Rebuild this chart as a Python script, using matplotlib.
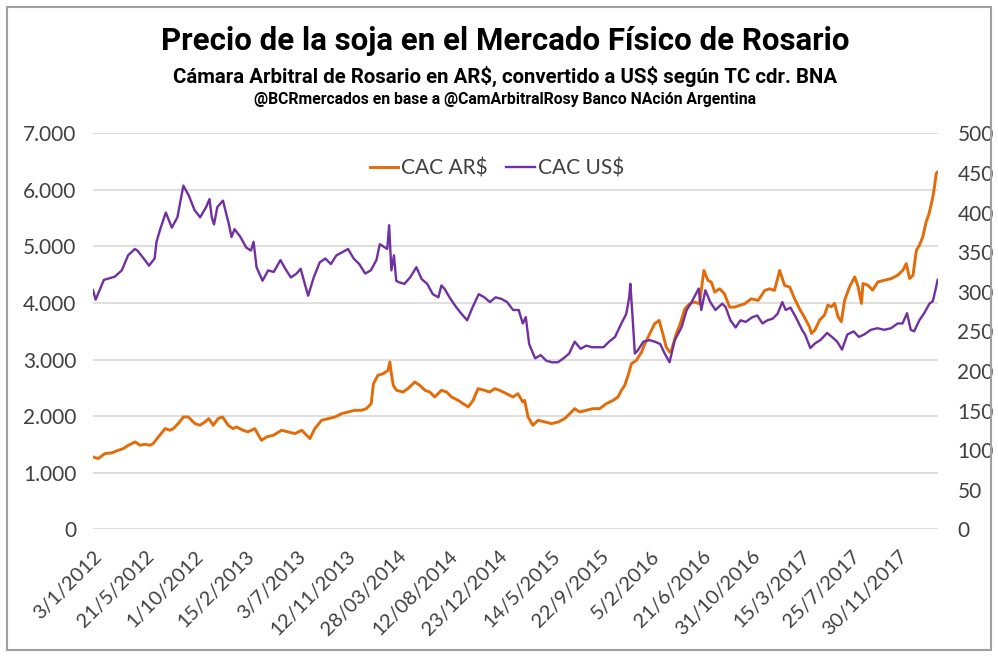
import matplotlib
matplotlib.use("Agg")
import matplotlib.pyplot as plt
from matplotlib.patches import Rectangle
from matplotlib.ticker import FuncFormatter
import pandas as pd

# CAC AR$ (left axis)
ars_dates = [
    "2012-01-03", "2012-01-17", "2012-02-04", "2012-02-22", "2012-03-11", "2012-03-24",
    "2012-04-07", "2012-04-25", "2012-05-08", "2012-05-21", "2012-06-04", "2012-06-12",
    "2012-06-26", "2012-07-14", "2012-07-27", "2012-08-05", "2012-08-18", "2012-09-01",
    "2012-09-14", "2012-10-02", "2012-10-15", "2012-10-29", "2012-11-08", "2012-11-20",
    "2012-12-03", "2012-12-15", "2012-12-30", "2013-01-12", "2013-01-21", "2013-02-08",
    "2013-02-21", "2013-03-11", "2013-03-29", "2013-04-12", "2013-04-30", "2013-05-22",
    "2013-06-09", "2013-06-27", "2013-07-15", "2013-07-28", "2013-08-06", "2013-08-19",
    "2013-09-06", "2013-09-24", "2013-10-12", "2013-10-30", "2013-11-16", "2013-12-04",
    "2013-12-22", "2014-01-04", "2014-01-17", "2014-01-23", "2014-02-04", "2014-02-18",
    "2014-03-03", "2014-03-08", "2014-03-12", "2014-03-17", "2014-03-26", "2014-04-12",
    "2014-04-25", "2014-05-14", "2014-05-27", "2014-06-10", "2014-06-23", "2014-07-06",
    "2014-07-24", "2014-08-07", "2014-08-20", "2014-09-07", "2014-09-20", "2014-10-04",
    "2014-10-17", "2014-10-30", "2014-11-17", "2014-11-30", "2014-12-14", "2014-12-27",
    "2015-01-14", "2015-02-01", "2015-02-14", "2015-02-27", "2015-03-04", "2015-03-13",
    "2015-03-26", "2015-04-09", "2015-04-27", "2015-05-15", "2015-06-02", "2015-06-19",
    "2015-07-03", "2015-07-16", "2015-07-29", "2015-08-16", "2015-09-03", "2015-09-21",
    "2015-10-09", "2015-10-27", "2015-11-09", "2015-11-18", "2015-11-27", "2015-12-06",
    "2015-12-15", "2015-12-28", "2016-01-11", "2016-01-20", "2016-02-02", "2016-02-15",
    "2016-02-27", "2016-03-08", "2016-03-17", "2016-03-26", "2016-03-31", "2016-04-13",
    "2016-04-22", "2016-05-06", "2016-05-19", "2016-06-01", "2016-06-14", "2016-06-26",
    "2016-07-07", "2016-07-16", "2016-07-25", "2016-08-07", "2016-08-20", "2016-09-03",
    "2016-09-16", "2016-09-30", "2016-10-13", "2016-10-31", "2016-11-18", "2016-12-06",
    "2016-12-19", "2017-01-01", "2017-01-15", "2017-01-28", "2017-02-11", "2017-02-24",
    "2017-03-09", "2017-03-22", "2017-04-05", "2017-04-10", "2017-04-19", "2017-05-02",
    "2017-05-15", "2017-05-24", "2017-06-02", "2017-06-11", "2017-06-20", "2017-06-29",
    "2017-07-08", "2017-07-21", "2017-08-04", "2017-08-13", "2017-08-22", "2017-08-26",
    "2017-09-08", "2017-09-21", "2017-10-05", "2017-10-23", "2017-11-10", "2017-11-27",
    "2017-12-11", "2017-12-20", "2017-12-29", "2018-01-07", "2018-01-16", "2018-01-24",
    "2018-02-02", "2018-02-11", "2018-02-19", "2018-03-01", "2018-03-06", "2018-03-10",
    "2018-03-13",
]
ars_vals = [
    1282, 1253, 1341, 1353, 1400, 1429,
    1488, 1547, 1488, 1506, 1488, 1518,
    1635, 1782, 1753, 1782, 1871, 1988,
    1988, 1871, 1841, 1900, 1959, 1841,
    1959, 1988, 1841, 1782, 1812, 1753,
    1724, 1782, 1576, 1635, 1665, 1753,
    1724, 1694, 1753, 1665, 1606, 1782,
    1929, 1959, 1988, 2047, 2076, 2106,
    2106, 2135, 2224, 2576, 2724, 2753,
    2812, 2959, 2753, 2547, 2459, 2429,
    2488, 2606, 2547, 2459, 2429, 2341,
    2459, 2429, 2341, 2282, 2224, 2165,
    2282, 2488, 2459, 2429, 2488, 2459,
    2400, 2341, 2400, 2253, 2282, 1988,
    1841, 1929, 1900, 1871, 1900, 1959,
    2047, 2135, 2076, 2106, 2135, 2135,
    2224, 2282, 2341, 2459, 2547, 2724,
    2929, 2988, 3135, 3282, 3459, 3635,
    3694, 3459, 3224, 3135, 3165, 3459,
    3606, 3900, 3988, 4018, 3988, 4576,
    4400, 4371, 4194, 4253, 4165, 3929,
    3929, 3959, 3988, 4076, 4047, 4224,
    4253, 4224, 4576, 4312, 4282, 4076,
    3900, 3753, 3576, 3466, 3520, 3701,
    3789, 3965, 3935, 3994, 3760, 3672,
    4053, 4287, 4463, 4287, 3994, 4346,
    4317, 4229, 4375, 4405, 4434, 4493,
    4581, 4698, 4434, 4493, 4933, 5021,
    5167, 5431, 5578, 5871, 6076, 6282,
    6311,
]

# CAC US$ (right axis)
usd_dates = [
    "2012-01-03", "2012-01-10", "2012-02-01", "2012-03-01", "2012-03-20", "2012-04-06",
    "2012-04-24", "2012-05-01", "2012-05-21", "2012-06-01", "2012-06-16", "2012-06-21",
    "2012-07-01", "2012-07-16", "2012-08-01", "2012-08-16", "2012-09-01", "2012-09-16",
    "2012-10-01", "2012-10-16", "2012-11-01", "2012-11-10", "2012-11-16", "2012-11-22",
    "2012-12-01", "2012-12-16", "2013-01-01", "2013-01-08", "2013-01-16", "2013-02-01",
    "2013-02-16", "2013-03-01", "2013-03-08", "2013-03-16", "2013-04-01", "2013-04-16",
    "2013-05-01", "2013-05-19", "2013-06-01", "2013-06-16", "2013-07-01", "2013-07-12",
    "2013-08-01", "2013-08-16", "2013-09-01", "2013-09-16", "2013-10-01", "2013-10-16",
    "2013-11-01", "2013-11-16", "2013-12-01", "2013-12-16", "2014-01-01", "2014-01-16",
    "2014-01-31", "2014-02-09", "2014-02-16", "2014-03-01", "2014-03-06", "2014-03-12",
    "2014-03-19", "2014-03-25", "2014-04-01", "2014-04-16", "2014-05-01", "2014-05-18",
    "2014-06-01", "2014-06-16", "2014-07-01", "2014-07-16", "2014-07-24", "2014-08-01",
    "2014-08-16", "2014-09-01", "2014-09-16", "2014-10-01", "2014-10-16", "2014-11-01",
    "2014-11-16", "2014-12-01", "2014-12-16", "2015-01-01", "2015-01-16", "2015-02-01",
    "2015-02-16", "2015-02-27", "2015-03-07", "2015-03-16", "2015-04-01", "2015-04-16",
    "2015-05-01", "2015-05-16", "2015-06-01", "2015-06-16", "2015-07-01", "2015-07-16",
    "2015-08-01", "2015-08-16", "2015-09-01", "2015-09-16", "2015-10-01", "2015-10-16",
    "2015-11-01", "2015-11-18", "2015-12-01", "2015-12-09", "2015-12-12", "2015-12-18",
    "2015-12-24", "2016-01-01", "2016-01-16", "2016-02-01", "2016-02-16", "2016-03-01",
    "2016-03-13", "2016-03-26", "2016-04-09", "2016-04-27", "2016-05-11", "2016-05-24",
    "2016-06-12", "2016-06-19", "2016-06-30", "2016-07-13", "2016-07-27", "2016-08-14",
    "2016-08-23", "2016-09-05", "2016-09-19", "2016-10-02", "2016-10-16", "2016-11-03",
    "2016-11-16", "2016-11-30", "2016-12-13", "2016-12-27", "2017-01-09", "2017-01-22",
    "2017-01-31", "2017-02-13", "2017-02-27", "2017-03-17", "2017-03-24", "2017-04-07",
    "2017-04-20", "2017-05-04", "2017-05-22", "2017-06-04", "2017-06-18", "2017-07-01",
    "2017-07-15", "2017-08-01", "2017-08-15", "2017-08-29", "2017-09-16", "2017-10-04",
    "2017-10-22", "2017-11-09", "2017-11-27", "2017-12-10", "2017-12-22", "2018-01-01",
    "2018-01-10", "2018-01-24", "2018-02-06", "2018-02-20", "2018-03-01", "2018-03-08",
    "2018-03-14",
]
usd_vals = [
    302, 290, 315, 319, 327, 346,
    354, 352, 340, 333, 342, 363,
    379, 400, 381, 394, 434, 421,
    403, 394, 407, 417, 394, 385,
    407, 415, 385, 369, 379, 369,
    356, 352, 363, 331, 314, 327,
    325, 340, 329, 318, 323, 329,
    295, 318, 337, 342, 335, 346,
    350, 354, 342, 335, 323, 327,
    340, 360, 358, 354, 384, 327,
    346, 314, 312, 310, 318, 331,
    316, 310, 297, 293, 308, 304,
    292, 281, 272, 264, 281, 297,
    293, 287, 293, 291, 287, 277,
    277, 260, 268, 234, 216, 220,
    213, 211, 211, 216, 222, 237,
    228, 232, 230, 230, 230, 237,
    243, 260, 272, 293, 310, 268,
    222, 226, 237, 239, 237, 234,
    222, 211, 239, 255, 277, 287,
    304, 277, 302, 287, 277, 285,
    281, 264, 255, 264, 262, 268,
    270, 260, 264, 266, 272, 287,
    277, 280, 268, 251, 246, 229,
    235, 239, 248, 243, 237, 227,
    246, 250, 243, 246, 252, 254,
    252, 254, 260, 260, 273, 252,
    250, 264, 273, 285, 288, 302,
    315,
]

tick_dates = ["2012-01-03", "2012-05-21", "2012-10-01", "2013-02-15", "2013-07-03",
              "2013-11-12", "2014-03-28", "2014-08-12", "2014-12-23", "2015-05-14",
              "2015-09-22", "2016-02-05", "2016-06-21", "2016-10-31", "2017-03-15",
              "2017-07-25", "2017-11-30"]
tick_labels = ["3/1/2012", "21/5/2012", "1/10/2012", "15/2/2013", "3/7/2013",
               "12/11/2013", "28/03/2014", "12/08/2014", "23/12/2014", "14/5/2015",
               "22/9/2015", "5/2/2016", "21/6/2016", "31/10/2016", "15/3/2017",
               "25/7/2017", "30/11/2017"]

ORANGE = "#E36C0A"
PURPLE = "#7030A0"
TXT = "#404040"
FONT = ["Lato", "DejaVu Sans"]
HEAD = ["Roboto", "DejaVu Sans"]

fig = plt.figure(figsize=(9.98, 6.57), dpi=100)
fig.patches.append(Rectangle((0.007, 0.011), 0.986, 0.978, transform=fig.transFigure,
                             fill=False, edgecolor="#A0A0A0", linewidth=1.5))

ax = fig.add_axes([0.0932, 0.1941, 0.8467, 0.603])
ax2 = ax.twinx()

l1, = ax.plot(pd.to_datetime(ars_dates), ars_vals, color=ORANGE, lw=2.1, label="CAC AR$")
l2, = ax2.plot(pd.to_datetime(usd_dates), usd_vals, color=PURPLE, lw=1.7, label="CAC US$")

ax.set_ylim(0, 7000)
ax2.set_ylim(0, 500)
ax.set_yticks(range(0, 7001, 1000))
ax2.set_yticks(range(0, 501, 50))
ax.yaxis.set_major_formatter(FuncFormatter(lambda v, p: f"{int(v):,}".replace(",", ".")))
ax.set_xlim(pd.Timestamp("2012-01-03"), pd.Timestamp("2018-03-15"))

ax.set_xticks(pd.to_datetime(tick_dates))
ax.set_xticklabels(tick_labels, rotation=45, ha="right", rotation_mode="anchor",
                   fontsize=14.5, color=TXT, family=FONT)
ax.tick_params(axis="x", length=0, pad=13)
ax.tick_params(axis="y", length=0, pad=12, labelsize=15, labelcolor=TXT)
ax2.tick_params(axis="y", length=0, pad=14, labelsize=15, labelcolor=TXT)
for t in ax.get_yticklabels() + ax2.get_yticklabels():
    t.set_family(FONT)

ax.grid(axis="y", color="#D9D9D9", linewidth=1.2)
ax.set_axisbelow(True)
for a in (ax, ax2):
    for s in a.spines.values():
        s.set_visible(False)

leg = ax2.legend(handles=[l1, l2], loc="center", bbox_to_anchor=(0.478, 0.912),
                 ncol=2, frameon=False, handlelength=1.35, columnspacing=0.9,
                 handletextpad=0.15, prop={"family": FONT, "size": 15})
for t in leg.get_texts():
    t.set_color(TXT)

fig.text(0.506, 0.938, "Precio de la soja en el Mercado Físico de Rosario",
         ha="center", va="center", fontsize=22.5, fontweight="bold", family=HEAD)
fig.text(0.506, 0.883, r"Cámara Arbitral de Rosario en AR\$, convertido a US\$ según TC cdr. BNA",
         ha="center", va="center", fontsize=14.7, fontweight="bold", family=HEAD)
fig.text(0.506, 0.848, "@BCRmercados en base a @CamArbitralRosy Banco NAción Argentina",
         ha="center", va="center", fontsize=11.3, fontweight="bold", family=HEAD)

fig.savefig("out.png", dpi=100)
